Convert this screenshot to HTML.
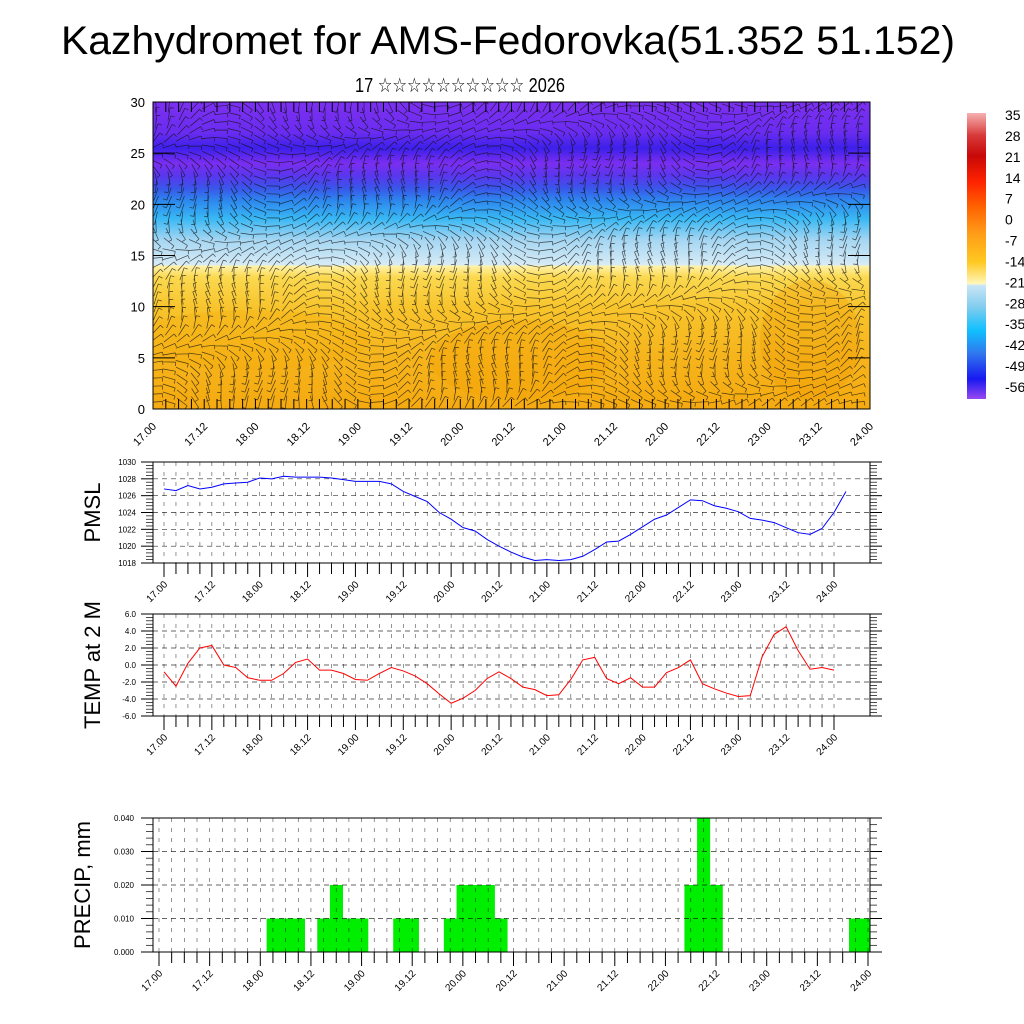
<!DOCTYPE html>
<html><head><meta charset="utf-8"><style>
html,body{margin:0;padding:0;background:#fff}
svg{display:block;font-family:"Liberation Sans",sans-serif}
</style></head><body>
<svg id="s" width="1024" height="1024" viewBox="0 0 1024 1024">
<defs>
<linearGradient id="fieldGrad" x1="0" y1="1" x2="0" y2="0">
<stop offset="0" stop-color="#f5aa10"/>
<stop offset="0.17" stop-color="#f6b41c"/>
<stop offset="0.33" stop-color="#f8c42c"/>
<stop offset="0.43" stop-color="#fbd950"/>
<stop offset="0.465" stop-color="#fff2a8"/>
<stop offset="0.47" stop-color="#d6ebf6"/>
<stop offset="0.55" stop-color="#a6d6f2"/>
<stop offset="0.62" stop-color="#38b8f4"/>
<stop offset="0.68" stop-color="#2d86ee"/>
<stop offset="0.72" stop-color="#3a55ea"/>
<stop offset="0.76" stop-color="#5a36ee"/>
<stop offset="0.8" stop-color="#7b2ef0"/>
<stop offset="0.85" stop-color="#3c20ea"/>
<stop offset="0.9" stop-color="#6a2cf0"/>
<stop offset="1" stop-color="#7c30f0"/>
</linearGradient>
<linearGradient id="cbGrad" x1="0" y1="0" x2="0" y2="1">
<stop offset="0" stop-color="#f6b0b0"/>
<stop offset="0.08" stop-color="#d83838"/>
<stop offset="0.15" stop-color="#c80808"/>
<stop offset="0.24" stop-color="#ff2200"/>
<stop offset="0.33" stop-color="#ff6400"/>
<stop offset="0.42" stop-color="#ff9c18"/>
<stop offset="0.52" stop-color="#ffc820"/>
<stop offset="0.6" stop-color="#fff8c0"/>
<stop offset="0.6" stop-color="#cce6f6"/>
<stop offset="0.68" stop-color="#80ccee"/>
<stop offset="0.76" stop-color="#10c0ff"/>
<stop offset="0.84" stop-color="#3078ee"/>
<stop offset="0.93" stop-color="#1818f0"/>
<stop offset="1" stop-color="#9848f0"/>
</linearGradient>
<clipPath id="fieldClip"><rect x="153" y="102" width="717" height="307"/></clipPath>
<clipPath id="precipClip"><rect x="153" y="818" width="717" height="134"/></clipPath>
</defs>
<text x="508" y="54" text-anchor="middle" font-size="40" textLength="894" lengthAdjust="spacingAndGlyphs">Kazhydromet for AMS-Fedorovka(51.352 51.152)</text>
<text x="460" y="92" text-anchor="middle" font-size="20" textLength="210" lengthAdjust="spacingAndGlyphs">17 ☆☆☆☆☆☆☆☆☆☆ 2026</text>
<g id="field"></g>
<g id="cb"></g>
<g id="pmsl"></g>
<g id="temp"></g>
<g id="precip"></g>
</svg>
<script>
const timeLabels=["17.00","17.12","18.00","18.12","19.00","19.12","20.00","20.12","21.00","21.12","22.00","22.12","23.00","23.12","24.00"];
const pmslValues=[1026.8,1026.6,1027.2,1026.8,1027.0,1027.4,1027.5,1027.6,1028.1,1028.0,1028.3,1028.2,1028.2,1028.2,1028.1,1027.9,1027.7,1027.7,1027.7,1027.4,1026.5,1025.9,1025.3,1024.0,1023.2,1022.2,1021.8,1020.8,1020.0,1019.3,1018.7,1018.3,1018.4,1018.3,1018.4,1018.8,1019.6,1020.5,1020.6,1021.4,1022.3,1023.2,1023.7,1024.6,1025.5,1025.4,1024.8,1024.5,1024.1,1023.3,1023.1,1022.8,1022.2,1021.6,1021.4,1022.1,1024.0,1026.5];
const tempValues=[-0.8,-2.5,0.2,2.0,2.3,0.0,-0.3,-1.5,-1.8,-1.8,-1.0,0.3,0.7,-0.6,-0.6,-1.0,-1.7,-1.8,-1.0,-0.3,-0.7,-1.3,-2.2,-3.4,-4.5,-3.9,-3.0,-1.6,-0.8,-1.6,-2.6,-2.9,-3.6,-3.5,-1.7,0.6,0.9,-1.6,-2.2,-1.5,-2.6,-2.6,-0.9,-0.3,0.6,-2.2,-2.8,-3.3,-3.7,-3.6,1.0,3.6,4.5,1.7,-0.5,-0.3,-0.6];
const precipValues=[0,0,0,0,0,0,0,0,0,0.01,0.01,0.01,0,0.01,0.02,0.01,0.01,0,0,0.01,0.01,0,0,0.01,0.02,0.02,0.02,0.01,0,0,0,0,0,0,0,0,0,0,0,0,0,0,0.02,0.04,0.02,0,0,0,0,0,0,0,0,0,0,0.01,0.01];
const pmslTicks=["1018","1020","1022","1024","1026","1028","1030"];
const tempTicks=["-6.0","-4.0","-2.0","0.0","2.0","4.0","6.0"];
const precipTicks=["0.000","0.010","0.020","0.030","0.040"];
const fieldTicks=["0","5","10","15","20","25","30"];
const cbLabels=["35","28","21","14","7","0","-7","-14","-21","-28","-35","-42","-49","-56"];

const NS="http://www.w3.org/2000/svg";
function mk(tag,attrs,parent,txt){const e=document.createElementNS(NS,tag);for(const k in attrs)e.setAttribute(k,attrs[k]);if(txt!==undefined)e.textContent=txt;parent.appendChild(e);return e;}

function xAxis(g,x0,step,yb,fs){
  for(let i=0;i<=56;i++){
    const x=x0+i*step;
    const t=mk('line',{x1:x,x2:x,y1:yb,y2:yb+(i%4===0?14:11),stroke:'#000','stroke-width':1},g);
    
    
  }
  timeLabels.forEach((l,k)=>{
    const x=x0+k*4*step;
    const t=mk('text',{x:x+4,y:yb+22,'font-size':fs,'text-anchor':'end',transform:`rotate(-45 ${x+4} ${yb+22})`},g,l);
    
    
  });
}
function frame(g,L,T,R,B){
  const f=mk('rect',{x:L,y:T,width:R-L,height:B-T,fill:'none',stroke:'#000','stroke-width':1},g);
  
  
}
function linePanel(id,vals,ticks,vmin,vmax,T,B,color,title){
  const g=document.getElementById(id);
  const L=153,R=870,x0=164,step=(834-164)/56;
  const sy=v=>B-(v-vmin)/(vmax-vmin)*(B-T);
  const sx=i=>x0+i*step;
  for(let i=0;i<=56;i++){
    const l=mk('line',{x1:sx(i),x2:sx(i),y1:T,y2:B,stroke:'#000','stroke-width':0.6,'stroke-dasharray':'4 6',opacity:0.7},g);
    
    
  }
  ticks.forEach((t,k)=>{
    const v=vmin+k*(vmax-vmin)/(ticks.length-1);const y=sy(v);
    if(k>0&&k<ticks.length-1){const l=mk('line',{x1:L,x2:R,y1:y,y2:y,stroke:'#000','stroke-width':0.7,'stroke-dasharray':'5 4',opacity:0.8},g);
    }
    mk('line',{x1:L-12,x2:L,y1:y,y2:y,stroke:'#000'},g);
    mk('line',{x1:R,x2:R+12,y1:y,y2:y,stroke:'#000'},g);
    if(k<ticks.length-1){for(let m=1;m<5;m++){const ym=y-m*(B-T)/(ticks.length-1)/5;
      mk('line',{x1:L-7,x2:L,y1:ym,y2:ym,stroke:'#000','stroke-width':0.7},g);
      mk('line',{x1:R,x2:R+7,y1:ym,y2:ym,stroke:'#000','stroke-width':0.7},g);}}
    const tl=mk('text',{x:L-17,y:y+3,'font-size':8,'text-anchor':'end'},g,t);
    
  });
  frame(g,L,T,R,B);
  const p=mk('polyline',{points:vals.map((v,i)=>sx(i)+','+sy(v)).join(' '),fill:'none',stroke:color,'stroke-width':1},g);
  
  
  xAxis(g,x0,step,B,10);
  const yt=mk('text',{x:0,y:0,'font-size':22,'text-anchor':'middle',transform:`translate(100 ${(T+B)/2}) rotate(-90)`},g,title);
  
}
linePanel('pmsl',pmslValues,pmslTicks,1018,1030,462,563,'#0000ff','PMSL');
linePanel('temp',tempValues,tempTicks,-6,6,614,716,'#ff0000','TEMP at 2 M');

(function(){
  const g=document.getElementById('precip');
  const L=153,R=870,T=818,B=952,x0=159,step=(868-159)/56,vmax=0.04;
  const sy=v=>B-v/vmax*(B-T);const sx=i=>x0+i*step;
  const bars=mk('g',{'clip-path':'url(#precipClip)'},g);
  precipValues.forEach((v,i)=>{if(v>0){const r=mk('rect',{x:sx(i)-step/2,y:sy(v),width:step+0.4,height:B-sy(v),fill:'#00ee00'},bars);
    }});
  for(let i=0;i<=56;i++){const l=mk('line',{x1:sx(i),x2:sx(i),y1:T,y2:B,stroke:'#000','stroke-width':0.6,'stroke-dasharray':'4 6',opacity:0.7},g);
    }
  precipTicks.forEach((t,k)=>{const v=k*0.01,y=sy(v);
    if(k>0&&k<precipTicks.length-1){mk('line',{x1:L,x2:R,y1:y,y2:y,stroke:'#000','stroke-width':0.7,'stroke-dasharray':'5 4',opacity:0.8},g);}
    mk('line',{x1:L-12,x2:L,y1:y,y2:y,stroke:'#000'},g);mk('line',{x1:R,x2:R+12,y1:y,y2:y,stroke:'#000'},g);
    if(k<precipTicks.length-1){for(let m=1;m<5;m++){const ym=y-m*(B-T)/4/5;
      mk('line',{x1:L-7,x2:L,y1:ym,y2:ym,stroke:'#000','stroke-width':0.7},g);mk('line',{x1:R,x2:R+7,y1:ym,y2:ym,stroke:'#000','stroke-width':0.7},g);}}
    const tl=mk('text',{x:L-19,y:y+3,'font-size':8,'text-anchor':'end'},g,t);
    });
  frame(g,L,T,R,B);
  xAxis(g,x0,step,B,10);
  const yt=mk('text',{x:0,y:0,'font-size':22,'text-anchor':'middle',transform:`translate(90 ${(T+B)/2}) rotate(-90)`},g,'PRECIP, mm');
  
})();

(function(){
  const g=document.getElementById('field');
  const L=153,R=870,T=102,B=409;
  const bg=mk('rect',{x:L,y:T,width:R-L,height:B-T,fill:'url(#fieldGrad)'},g);
  
  const c=mk('g',{'clip-path':'url(#fieldClip)'},g);
  [[520,360,90,40,'#f2a000',0.3],[810,340,50,60,'#f09800',0.3],[250,340,120,30,'#f4a800',0.25]].forEach(b=>{
    mk('ellipse',{cx:b[0],cy:b[1],rx:b[2],ry:b[3],fill:b[4],opacity:b[5]},c);});
  const barbs=mk('g',{stroke:'#111','stroke-width':0.7,opacity:0.75,fill:'none'},c);
  
  let d='';
  for(let y=T+4;y<B;y+=8){for(let x=L+3;x<R;x+=13){
    const a=Math.sin(x/60+y/40)*1.2+Math.cos(y/25-x/90)*0.8;
    const len=13,dx=Math.cos(a)*len,dy=Math.sin(a)*len;
    d+=`M${(x-dx/2).toFixed(1)} ${(y-dy/2).toFixed(1)}l${dx.toFixed(1)} ${dy.toFixed(1)}`;
    d+=`m0 0l${(-dy*0.3).toFixed(1)} ${(dx*0.3).toFixed(1)}`;
  }}
  mk('path',{d:d},barbs);
  frame(g,L,T,R,B);
  const sy=v=>B-v/30*(B-T);
  fieldTicks.forEach((t,k)=>{const y=sy(k*5);
    mk('line',{x1:L,x2:L+22,y1:y,y2:y,stroke:'#000'},g);
    mk('line',{x1:R-22,x2:R,y1:y,y2:y,stroke:'#000'},g);
    const tl=mk('text',{x:L-8,y:y+5,'font-size':13,'text-anchor':'end'},g,t);
    });
  const step=(R-L)/56;
  for(let i=0;i<=56;i++){const x=L+i*step;
    mk('line',{x1:x,x2:x,y1:B,y2:B-10,stroke:'#000'},g);mk('line',{x1:x,x2:x,y1:T,y2:T+10,stroke:'#000'},g);}
  timeLabels.forEach((l,k)=>{const x=L+k*4*step;
    const t=mk('text',{x:x+4,y:B+18,'font-size':11,'text-anchor':'end',transform:`rotate(-45 ${x+4} ${B+18})`},g,l);
    });
})();

(function(){
  const g=document.getElementById('cb');
  const r=mk('rect',{x:967,y:113,width:19,height:286,fill:'url(#cbGrad)'},g);
  
  cbLabels.forEach((l,k)=>{const y=120+k*(385-113)/13;
    const t=mk('text',{x:1005,y:y,'font-size':14},g,l);
    });
})();
</script>
</body></html>
